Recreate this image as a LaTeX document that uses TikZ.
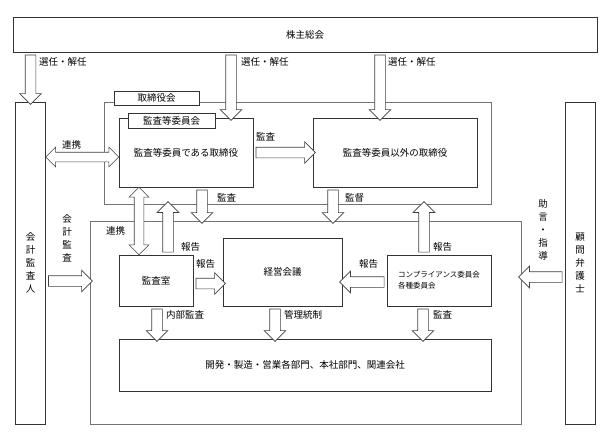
\documentclass[tikz,border=0pt]{standalone}
\usepackage{fontspec}
\setmainfont{Noto Sans CJK JP}
\usetikzlibrary{shapes.arrows,calc}

\tikzset{
  box/.style={draw=black!80, line width=0.6pt, fill=white, inner sep=0pt, font=\fontsize{9.5pt}{12pt}\selectfont},
  frame/.style={draw=black!55, line width=0.6pt, inner sep=0pt},
  lbl/.style={inner sep=0pt, anchor=west, font=\fontsize{9.5pt}{12pt}\selectfont},
  vlbl/.style={inner sep=0pt, align=center, font=\fontsize{9.5pt}{13pt}\selectfont},
  barrow/.style={single arrow, draw=black!75, fill=white, line width=0.6pt, inner sep=5pt, outer sep=0pt, minimum width=0pt, single arrow head extend=5.5pt},
  darrow/.style={double arrow, draw=black!75, fill=white, line width=0.6pt, inner sep=4.5pt, outer sep=0pt, minimum width=0pt, double arrow head extend=5pt}
}

% block arrow between two points
\newcommand{\barr}[3][barrow]{%
  \path let \p1=($(#3)-(#2)$), \n1={veclen(\x1,\y1)}, \n2={atan2(\y1,\x1)} in
    node[#1, minimum height=\n1, rotate=\n2] at ($(#2)!0.5!(#3)$) {};}

\begin{document}
\begin{tikzpicture}[x=1pt,y=-1pt]
\useasboundingbox (0,0) rectangle (610,442);

% containers
\node[frame, minimum width=387pt, minimum height=102pt] (board) at (297.5,153) {};
\node[frame, minimum width=431pt, minimum height=203pt] (inner) at (305.5,322.5) {};

% boxes
\node[box, minimum width=584pt, minimum height=35pt] (kabu) at (305,34.5) {株主総会};
\node[box, minimum width=30pt, minimum height=322pt, align=center, font=\fontsize{9.5pt}{13pt}\selectfont] (kaikei) at (30.5,263) {会\\計\\監\\査\\人};
\node[box, minimum width=30pt, minimum height=322pt, align=center, font=\fontsize{9.5pt}{13pt}\selectfont] (komon) at (580,263) {顧\\問\\弁\\護\\士};
\node[box, minimum width=85pt, minimum height=14pt] (boardtab) at (156.5,98) {取締役会};
\node[box, minimum width=134pt, minimum height=69pt] (audit) at (186,152.5) {監査等委員である取締役};
\node[box, minimum width=87pt, minimum height=15pt] (audittab) at (171.5,120.5) {監査等委員会};
\node[box, minimum width=164pt, minimum height=69pt] (other) at (395,152.5) {監査等委員以外の取締役};
\node[box, minimum width=74pt, minimum height=51pt] (shitsu) at (156,280.5) {監査室};
\node[box, minimum width=119pt, minimum height=68pt] (keiei) at (282.5,272) {経営会議};
\node[box, minimum width=104pt, minimum height=51pt, align=left, font=\fontsize{7.5pt}{11pt}\selectfont] (comp) at (439,280.5) {コンプライアンス委員会\\各種委員会};
\node[box, minimum width=372pt, minimum height=52pt] (bumon) at (305,365) {開発・製造・営業各部門、本社部門、関連会社};

% arrow positions
\coordinate (t2) at ([xshift=45pt]audit.north);
\coordinate (t3) at ([xshift=-15pt]other.north);
\coordinate (d1) at ([xshift=16pt]audit.south);
\coordinate (d2) at ([xshift=-62pt]other.south);
\coordinate (u1) at ([xshift=12pt]shitsu.north);
\coordinate (u2) at ([xshift=-15pt]comp.north);
\coordinate (r1) at ([xshift=-17pt]shitsu.north);
\coordinate (r2) at ([yshift=-4.5pt]audit.west);
\coordinate (h1) at ([yshift=-3pt]shitsu.east);
\coordinate (h2) at ([yshift=-1.5pt]comp.west);
\coordinate (h3) at ([yshift=-18pt]kaikei.east);
\coordinate (h4) at ([yshift=-14pt]komon.west);
\coordinate (b1) at ([xshift=1pt]shitsu.south);
\coordinate (b2) at ([xshift=-7.5pt]keiei.south);
\coordinate (b3) at ([xshift=-16pt]comp.south);

% arrows
\barr{kaikei.north |- kabu.south}{kaikei.north}
\barr{t2 |- kabu.south}{t2}
\barr{t3 |- kabu.south}{t3}
\barr{audit.east}{other.west}
\barr{d1}{d1 |- inner.north}
\barr{d2}{d2 |- inner.north}
\barr{u1}{u1 |- board.south}
\barr{u2}{u2 |- board.south}
\barr[darrow]{r1 |- audit.south}{r1}
\barr[darrow]{kaikei.east |- r2}{r2}
\barr{h1}{h1 -| keiei.west}
\barr{h2}{h2 -| keiei.east}
\barr{h3}{h3 -| inner.west}
\barr{h4}{h4 -| inner.east}
\barr{b1}{b1 |- bumon.north}
\barr{b2}{b2 |- bumon.north}
\barr{b3}{b3 |- bumon.north}

% labels
\node[lbl] (sen1) at (39,62) {選任・解任};
\node[lbl] (sen2) at (241,62) {選任・解任};
\node[lbl] (sen3) at (388,62) {選任・解任};
\node[lbl] (renkei1) at (62,145) {連携};
\node[lbl] (kansa1) at (256,137) {監査};
\node[lbl] (kansa2) at (217,198) {監査};
\node[lbl] (kantoku) at (345,198) {監督};
\node[lbl] (renkei2) at (106,231) {連携};
\node[lbl] (hokoku1) at (181,247) {報告};
\node[lbl] (hokoku2) at (196,264) {報告};
\node[lbl] (hokoku3) at (359,264) {報告};
\node[lbl] (hokoku4) at (433,247) {報告};
\node[lbl] (naibu) at (166,315) {内部監査};
\node[lbl] (kanri) at (284,315) {管理統制};
\node[lbl] (kansa3) at (433,315) {監査};
\node[vlbl] (kaikeikansa) at (67,238) {会\\計\\監\\査};
\node[vlbl] (jogen) at (543,230) {助\\言\\・\\指\\導};
\end{tikzpicture}
\end{document}
